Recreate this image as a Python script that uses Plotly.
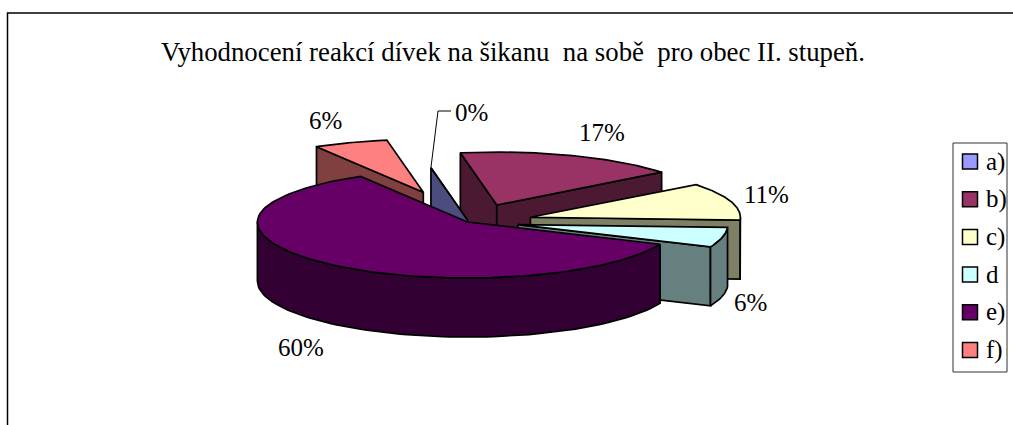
import numpy as np
import plotly.graph_objects as go

# ---- data ----
categories = ["a)", "b)", "c)", "d", "e)", "f)"]
counts = [0, 6, 4, 2, 21, 2]
percent_labels = ["0%", "17%", "11%", "6%", "60%", "6%"]
top_colors = ["#9999FF", "#993366", "#FFFFCC", "#CCFFFF", "#660066", "#FF8080"]
side_colors = ["#4C4C7F", "#4C1933", "#7F7F66", "#667F7F", "#330033", "#804040"]
title_text = "Vyhodnocení reakcí dívek na šikanu  na sobě  pro obec II. stupeň."

# ---- projection of the 3-D pie (layout constants) ----
W, H = 1013, 425
CENTER = (480.0, 222.0)
RX, RY_BACK, RY_FRONT, DEPTH = 210.0, 53.0, 56.0, 59.0
START_DEG = -10.0
LINE_W = 1.7
# per-slice explosion, in pie-radius units along the screen axes
EXPLODE_X = [-0.06, 0.08, 0.24, 0.18, -0.06, -0.27]
EXPLODE_Y = [-0.04, -0.32, -0.09, 0.05, 0.0, -0.56]
DRAW_ORDER = [5, 1, 0, 2, 3, 4]
LABEL_POS = [(471, 112), (602, 132), (766, 194), (750, 302), (301, 347), (325, 120)]
FONT = "Liberation Serif"

total = sum(counts)
edges = START_DEG + np.concatenate([[0], np.cumsum(counts)]) * 360.0 / total


def rim(ax, ay, angles_deg):
    t = np.radians(angles_deg)
    c = np.cos(t)
    return ax + RX * np.sin(t), ay - np.where(c > 0, RY_BACK, RY_FRONT) * c


def add_poly(fig, xs, ys, fill, name):
    fig.add_trace(go.Scatter(
        x=list(xs) + [xs[0]], y=list(ys) + [ys[0]], mode="lines", fill="toself",
        fillcolor=fill, line=dict(color="black", width=LINE_W), name=name,
        hoverinfo="name", showlegend=False,
    ))


fig = go.Figure()

for i in DRAW_ORDER:
    a0, a1 = edges[i], edges[i + 1]
    ax = CENTER[0] + EXPLODE_X[i] * RX
    ay = CENTER[1] + EXPLODE_Y[i] * RY_BACK
    name = categories[i]
    # radial cut faces that face the viewer
    faces = []
    if np.sin(np.radians(a0)) < 0:
        faces.append(a0)
    if np.sin(np.radians(a1)) > 0:
        faces.append(a1)
    for ang in faces:
        rx_, ry_ = rim(ax, ay, np.array([ang]))
        add_poly(fig, [ax, rx_[0], rx_[0], ax],
                 [ay, ry_[0], ry_[0] + DEPTH, ay + DEPTH], side_colors[i], name)
    # outer wall, only the part that faces the viewer (90..270 degrees)
    lo = max(a0, 90.0)
    hi = min(a1, 270.0)
    if hi > lo:
        angs = np.linspace(lo, hi, 80)
        rx_, ry_ = rim(ax, ay, angs)
        add_poly(fig, np.r_[rx_, rx_[::-1]], np.r_[ry_, ry_[::-1] + DEPTH],
                 side_colors[i], name)
    # top surface
    angs = np.linspace(a0, a1, 120)
    rx_, ry_ = rim(ax, ay, angs)
    add_poly(fig, np.r_[ax, rx_], np.r_[ay, ry_], top_colors[i], name)

# leader line of the 0 % label
i0 = 0
lx0, ly0 = rim(CENTER[0] + EXPLODE_X[i0] * RX, CENTER[1] + EXPLODE_Y[i0] * RY_BACK, np.array([edges[0]]))
fig.add_trace(go.Scatter(x=[lx0[0], 438, 451], y=[ly0[0], 111, 111], mode="lines",
                         line=dict(color="black", width=1), hoverinfo="skip", showlegend=False))

# percent labels
for (lx, ly), txt in zip(LABEL_POS, percent_labels):
    fig.add_annotation(x=lx, y=ly, text=txt, showarrow=False,
                       font=dict(family=FONT, size=25, color="black"))

# legend drawn by hand so its proportions match
LEG_Y0, LEG_STEP = 161.5, 37.7
leg_y = [LEG_Y0 + k * LEG_STEP for k in range(len(categories))]
fig.add_trace(go.Scatter(x=[970] * len(categories), y=leg_y, mode="markers",
                         marker=dict(symbol="square", size=15, color=top_colors,
                                     line=dict(color="black", width=1.5)),
                         text=categories, hoverinfo="text", showlegend=False))
for y, c in zip(leg_y, categories):
    fig.add_annotation(x=984, y=y, text=c, xanchor="left", showarrow=False,
                       font=dict(family=FONT, size=25, color="black"))

shapes = [
    dict(type="rect", x0=953, x1=1007, y0=143, y1=372, line=dict(color="#303030", width=1)),
    dict(type="rect", x0=7.5, x1=1060, y0=13, y1=480, line=dict(color="black", width=1.5)),
]

fig.update_layout(
    width=W, height=H, margin=dict(l=0, r=0, t=0, b=0),
    paper_bgcolor="white", plot_bgcolor="white", showlegend=False,
    xaxis=dict(range=[0, W], visible=False, fixedrange=True),
    yaxis=dict(range=[H, 0], visible=False, fixedrange=True),
    shapes=shapes,
    annotations=list(fig.layout.annotations) + [dict(
        x=513, y=52, text=title_text, showarrow=False, xref="x", yref="y",
        font=dict(family=FONT, size=26.8, color="black"))],
)
fig.write_html("out.html", config=dict(displayModeBar=False),
               post_script="document.body.style.margin='0';document.body.style.overflow='hidden';")
